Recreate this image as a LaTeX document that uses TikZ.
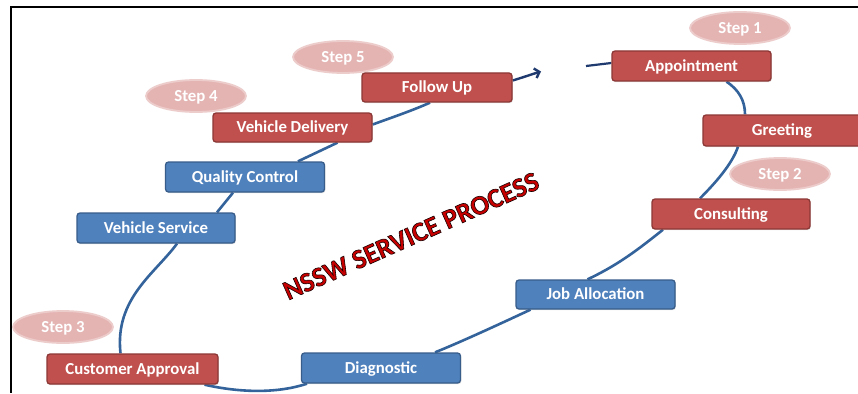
\documentclass[tikz,border=0pt]{standalone}
\usepackage{fontspec}
\setmainfont{Carlito}
\newfontfamily\titlefont[FakeBold=2.2]{Carlito Bold}
\usetikzlibrary{calc,backgrounds,shadows,arrows.meta,shapes.geometric}
\definecolor{redfill}{HTML}{C0504D}
\definecolor{redline}{HTML}{8C3836}
\definecolor{bluefill}{HTML}{4F81BD}
\definecolor{blueline}{HTML}{385D8A}
\definecolor{pinkfill}{HTML}{E4B4B3}
\definecolor{pinkline}{HTML}{EDCDCC}
\definecolor{linkblue}{HTML}{33639A}
\definecolor{navy}{HTML}{1F3A6E}
\begin{document}
\begin{tikzpicture}[x=1pt,y=-1pt,
  box/.style={rectangle,rounded corners=3pt,line width=1.3pt,minimum height=29pt,
    text=white,font=\bfseries\fontsize{16.8}{18}\selectfont,inner sep=0pt,
    text height=13pt,text depth=2.4pt,
    drop shadow={shadow xshift=0.8pt,shadow yshift=-1.2pt,opacity=0.25}},
  redbox/.style={box,fill=redfill,draw=redline},
  bluebox/.style={box,fill=bluefill,draw=blueline},
  stepbubble/.style={ellipse,fill=pinkfill,draw=pinkline,line width=1.8pt,
    minimum width=100pt,minimum height=32pt,inner sep=0pt,text=white,
    text height=13pt,text depth=2.4pt,
    font=\bfseries\fontsize{16.8}{18}\selectfont},
  link/.style={draw=linkblue,line width=2.6pt},
  titletext/.style={rotate=24,font=\titlefont\fontsize{27.5}{30}\selectfont,inner sep=0pt}
]
\useasboundingbox (0,0) rectangle (858,393);
% frame
\draw[line width=2.3pt] (858,7) -- (11,7) -- (11,393);

% step bubbles
\node[stepbubble] (s1) at (740,28) {Step 1};
\node[stepbubble] (s2) at (780,174) {Step 2};
\node[stepbubble] (s3) at (63,327) {Step 3};
\node[stepbubble] (s4) at (196,96) {Step 4};
\node[stepbubble] (s5) at (343,57) {Step 5};

% process boxes
\node[redbox,minimum width=159pt,minimum height=30pt] (app) at (691.5,66) {Appointment};
\node[redbox,minimum width=158pt,minimum height=31pt] (greet) at (782,130.5) {Greeting};
\node[redbox,minimum width=158pt,minimum height=30pt] (cons) at (731,214) {Consulting};
\node[bluebox,minimum width=159pt] (job) at (595.5,294.5) {Job Allocation};
\node[bluebox,minimum width=159pt,minimum height=30pt] (diag) at (381,368) {Diagnostic};
\node[redbox,minimum width=171pt,minimum height=30pt] (cust) at (132.5,369) {Customer Approval};
\node[bluebox,minimum width=158pt,minimum height=30pt] (vserv) at (156,228) {Vehicle Service};
\node[bluebox,minimum width=159pt,minimum height=30pt] (qc) at (245,177) {Quality Control};
\node[redbox,minimum width=159pt] (vdel) at (292.5,127.5) {Vehicle Delivery};
\node[redbox,minimum width=150pt] (fup) at (437,87.5) {Follow Up};

% title: red fill, black outline (fake-bold stroke)
\node[titletext] (title) at (411,236)
  {\special{pdf:bcolor [0.78 0 0] [0.1 0 0]}NSSW SERVICE PROCESS\special{pdf:ecolor}};

\coordinate (arrowtip) at (541,71.5);
\coordinate (apptail) at (586,66);

\begin{pgfonlayer}{background}
\fill[white] (0,0) rectangle (858,393);
\draw[link] ($(app.south)+(35,0)$) .. controls +(12,8) and +(0,-14) .. ($(greet.north)+(-37,0)$);
\draw[link] ($(greet.south)+(-44,0)$) .. controls +(-6,18) and +(14,-14) .. ($(cons.north)+(-31,0)$);
\draw[link] ($(cons.south)+(-68,0)$) .. controls +(-25,20) and +(30,-14) .. ($(job.north)+(-8,0)$);
\draw[link] ($(job.south)+(-65,0)$) .. controls +(-30,14) and +(25,-10) .. ($(diag.north)+(54,0)$);
\draw[link] ($(diag.south)+(-74,0)$) .. controls +(-30,10) and +(35,8) .. ($(cust.south)+(72,0)$);
\draw[link] ($(cust.north)+(-12,0)$) .. controls +(-6,-55) and +(-22,30) .. ($(vserv.south)+(21,0)$);
\draw[link] ($(vserv.north)+(61,0)$) -- ($(qc.south)+(-12,0)$);
\draw[link] ($(qc.north)+(53,0)$) -- ($(vdel.south)+(45,0)$);
\draw[link] ($(vdel.east)+(0,-3)$) .. controls +(22,-8) and +(-18,8) .. ($(fup.south)+(-7,0)$);
\draw[navy,line width=2.4pt,-{Straight Barb[length=4.5pt,width=10pt]}]
  ($(fup.east)+(0,-7)$) .. controls +(10,-3) and +(-10,3) .. (arrowtip);
\draw[navy,line width=2.2pt] (apptail) -- ($(app.west)+(0,-3)$);
\end{pgfonlayer}
\end{tikzpicture}
\end{document}
